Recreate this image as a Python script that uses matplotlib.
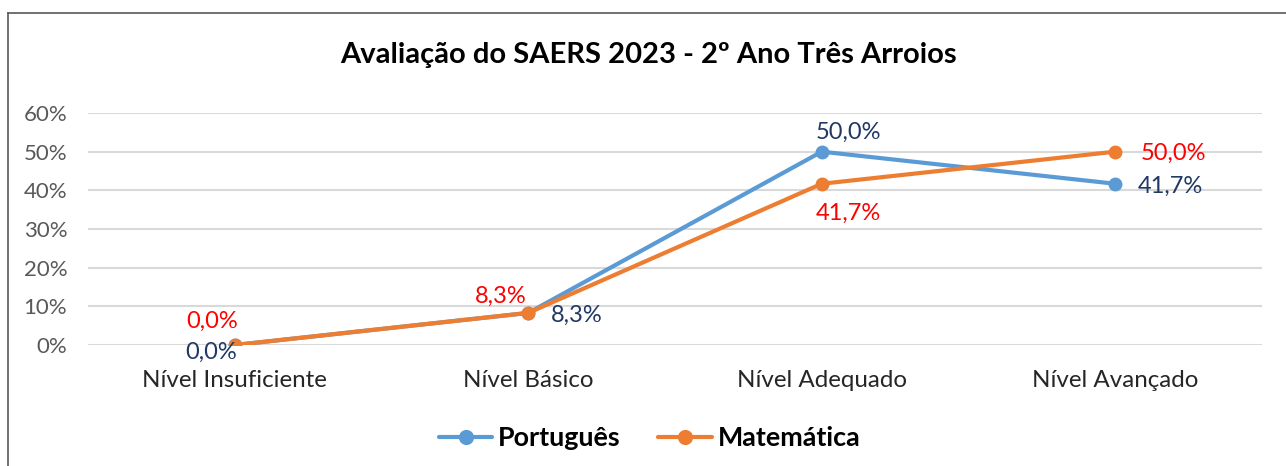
import numpy as np
import matplotlib.pyplot as plt
from matplotlib.lines import Line2D
from matplotlib.ticker import PercentFormatter

plt.rcParams["font.family"] = ["Lato", "DejaVu Sans"]

categories = ["Nível Insuficiente", "Nível Básico", "Nível Adequado", "Nível Avançado"]
portugues = [0.0, 8.3, 50.0, 41.7]
matematica = [0.0, 8.3, 41.7, 50.0]

blue = "#5B9BD5"
orange = "#ED7D31"
navy = "#1F3864"
red = "#FF0000"

# label offsets in points (dx, dy, ha)
port_offsets = [(1.5, -5, "right"), (16.5, -2, "left"), (19, 14, "center"), (16.5, -2, "left")]
mat_offsets = [(-16, 17, "center"), (-1, 12, "right"), (19, -21, "center"), (18, -1.5, "left")]

W, H = 1286, 466
fig = plt.figure(figsize=(W / 100, H / 100), dpi=100)
# frame border (left and top visible, rest cropped)
fig.lines.append(Line2D([7.5 / W, 7.5 / W], [0, 1 - 13 / H], transform=fig.transFigure,
                        color="#595959", linewidth=1.2))
fig.lines.append(Line2D([7.5 / W, 1], [1 - 13 / H, 1 - 13 / H], transform=fig.transFigure,
                        color="#595959", linewidth=1.2))

ax = fig.add_axes([88 / W, 121 / H, 1174 / W, 232 / H])
x = np.arange(len(categories))

ax.plot(x, portugues, color=blue, linewidth=3, marker="o", markersize=9,
        label="Português", zorder=3, solid_capstyle="round")
ax.plot(x, matematica, color=orange, linewidth=3, marker="o", markersize=9,
        label="Matemática", zorder=4, solid_capstyle="round")


def fmt(v):
    return f"{v:.1f}%".replace(".", ",")


for vals, offs, col in [(portugues, port_offsets, navy), (matematica, mat_offsets, red)]:
    for xi, v, (dx, dy, ha) in zip(x, vals, offs):
        ax.annotate(fmt(v), (xi, v), xytext=(dx, dy), textcoords="offset points",
                    ha=ha, va="center", color=col, fontsize=17, zorder=5)

ax.set_xlim(-0.5, len(categories) - 0.5)
ax.set_ylim(0, 60)
ax.set_yticks(np.arange(0, 61, 10))
ax.yaxis.set_major_formatter(PercentFormatter(decimals=0))
ax.set_xticks(x)
ax.set_xticklabels(categories)
ax.grid(axis="y", color="#D9D9D9", linewidth=1.5)
ax.set_axisbelow(True)
for s in ax.spines.values():
    s.set_visible(False)
ax.tick_params(axis="y", length=0, labelsize=16, labelcolor="#595959", pad=15)
ax.tick_params(axis="x", length=0, labelsize=17.4, labelcolor="#262626", pad=18)

fig.text(0.504, 1 - 55 / H, "Avaliação do SAERS 2023 - 2º Ano Três Arroios",
         ha="center", va="center", fontsize=21, fontweight="bold", color="#000000")

fig.legend(loc="center", bbox_to_anchor=(0.505, 1 - 438 / H), ncol=2, frameon=False,
           prop={"weight": "bold", "size": 19.4}, handlelength=2.0, handletextpad=0.2,
           columnspacing=1.4, markerscale=1.1)

fig.savefig("out.png", dpi=100)
